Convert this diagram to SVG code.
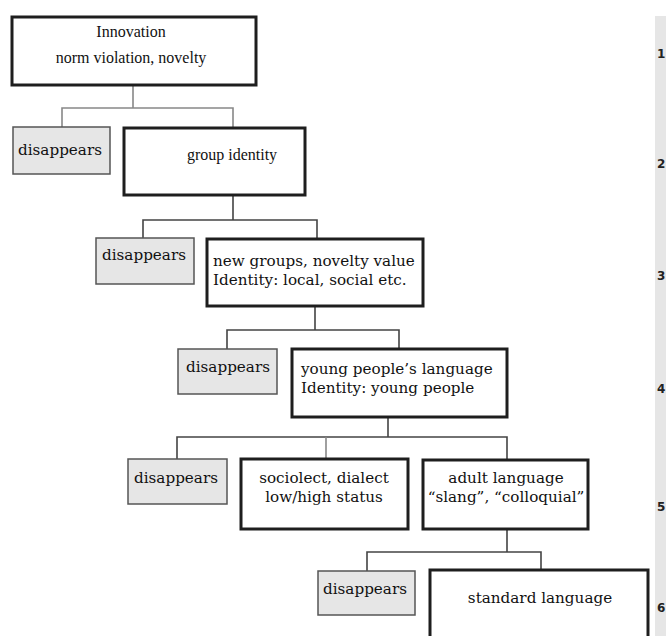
<svg xmlns="http://www.w3.org/2000/svg" width="666" height="636" viewBox="0 0 666 636">
<style>
.box{fill:#fff;stroke:#1e1e1e;stroke-width:3}
.gone{fill:#e6e6e6;stroke:#555;stroke-width:1.5}
.t{font-family:"Liberation Serif","Times New Roman",serif;font-size:16px;fill:#111}
.b{font-family:"DejaVu Serif","Bookman Old Style",serif;font-size:15.2px;fill:#111}
.c{text-anchor:middle}
.con{fill:none;stroke:#444;stroke-width:1.6}
.con2{fill:none;stroke:#888;stroke-width:1.6}
.num{font-family:"DejaVu Sans",sans-serif;font-weight:bold;font-size:12px;fill:#222}
</style>
<rect width="666" height="636" fill="#fff"/>
<g id="margin">
<rect x="655" y="16" width="11" height="620" fill="#e6e6e6"/>
<text class="num" x="657" y="58">1</text>
<text class="num" x="657" y="168">2</text>
<text class="num" x="657" y="280">3</text>
<text class="num" x="657" y="393">4</text>
<text class="num" x="657" y="511">5</text>
<text class="num" x="657" y="612">6</text>
</g>
<g id="connectors">
<path class="con2" d="M133,85V108M62,127V108H233V128"/>
<path class="con" d="M233,195V220M143,238V220H317V239"/>
<path class="con" d="M315,306V330M227,349V330H399V349"/>
<path class="con" d="M388,417V437M177,459V437H507V460"/>
<path class="con2" d="M326,437V459"/>
<path class="con" d="M507,529V552M367,571V552H541V570"/>
</g>
<g id="innovation">
<rect class="box" x="12" y="17" width="244" height="68"/>
<text class="t c" x="131" y="37">Innovation</text>
<text class="t c" x="131" y="63">norm violation, novelty</text>
</g>
<g id="disappears1">
<rect class="gone" x="13" y="127" width="97" height="47"/>
<text class="b" x="18" y="155">disappears</text>
</g>
<g id="group-identity">
<rect class="box" x="124" y="128" width="181" height="67"/>
<text class="t c" x="232" y="160">group identity</text>
</g>
<g id="disappears2">
<rect class="gone" x="96" y="238" width="98" height="46"/>
<text class="b" x="102" y="260">disappears</text>
</g>
<g id="new-groups">
<rect class="box" x="207" y="239" width="216" height="67"/>
<text class="b" x="213" y="266">new groups, novelty value</text>
<text class="b" x="213" y="285">Identity: local, social etc.</text>
</g>
<g id="disappears3">
<rect class="gone" x="178" y="349" width="99" height="45"/>
<text class="b" x="186" y="372">disappears</text>
</g>
<g id="young-people">
<rect class="box" x="292" y="349" width="215" height="68"/>
<text class="b" x="301" y="374">young people’s language</text>
<text class="b" x="301" y="393">Identity: young people</text>
</g>
<g id="disappears4">
<rect class="gone" x="128" y="459" width="99" height="45"/>
<text class="b" x="134" y="483">disappears</text>
</g>
<g id="sociolect">
<rect class="box" x="241" y="459" width="167" height="70"/>
<text class="b c" x="324" y="483">sociolect, dialect</text>
<text class="b c" x="324" y="502">low/high status</text>
</g>
<g id="adult-language">
<rect class="box" x="423" y="460" width="165" height="69"/>
<text class="b c" x="506" y="483">adult language</text>
<text class="b c" x="506" y="502">“slang”, “colloquial”</text>
</g>
<g id="disappears5">
<rect class="gone" x="318" y="571" width="97" height="44"/>
<text class="b" x="323" y="594">disappears</text>
</g>
<g id="standard-language">
<rect class="box" x="430" y="570" width="218" height="70"/>
<text class="b c" x="540" y="603">standard language</text>
</g>
</svg>
